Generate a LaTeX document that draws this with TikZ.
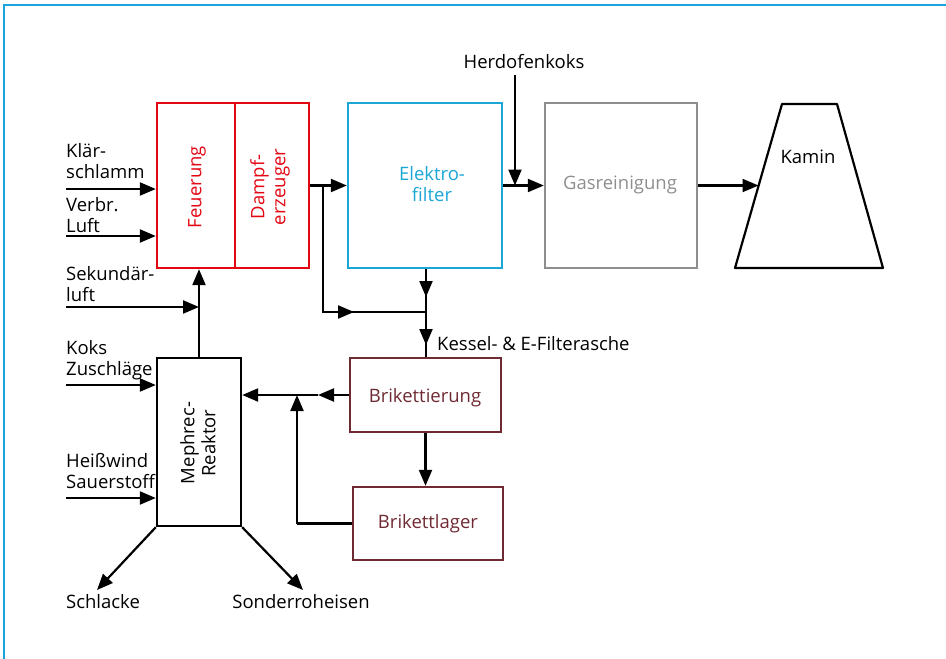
\documentclass[tikz,border=0pt]{standalone}
\usepackage{fontspec}
\setmainfont{Open Sans}
\usetikzlibrary{arrows.meta}
\definecolor{fred}{HTML}{E30613}
\definecolor{fcyan}{HTML}{1BA6D6}
\definecolor{fgray}{HTML}{8E8E8E}
\definecolor{fbrown}{HTML}{6F2A33}
\definecolor{fframe}{HTML}{1AA3DD}
\begin{document}
\begin{tikzpicture}[x=1pt,y=-1pt,
  lbl/.style={inner sep=0pt, anchor=base west, font=\fontsize{18.5}{20.5}\selectfont, align=left},
  txt/.style={inner sep=0pt, font=\fontsize{18.5}{21}\selectfont, align=center},
  box/.style={draw, line width=2.4pt, inner sep=0pt},
  ln/.style={line width=2.2pt},
  arr/.style={line width=2.2pt, -{Triangle[length=16pt,width=13pt]}}]
\useasboundingbox (0,0) rectangle (946,659);
\draw[fframe, line width=2pt] (4,659) -- (4,4.5) -- (946,4.5);
% boxes
\node[box, draw=fred, minimum width=78pt, minimum height=165pt] (feu) at (196,185.5) {};
\node[box, draw=fred, minimum width=74pt, minimum height=165pt] (dampf) at (272,185.5) {};
\node[box, draw=fcyan, minimum width=154pt, minimum height=165pt] (elek) at (425,185.5) {};
\node[box, draw=fgray, minimum width=152pt, minimum height=165pt] (gas) at (621,185.5) {};
\node[box, draw=black, minimum width=84pt, minimum height=168pt] (meph) at (199,442) {};
\node[box, draw=fbrown, minimum width=151pt, minimum height=74pt] (brik) at (425.5,395) {};
\node[box, draw=fbrown, minimum width=150pt, minimum height=73pt] (lager) at (428,523.5) {};
\draw[line width=2.2pt, line join=round] (782,104) -- (837,104) -- (883,268) -- (735,268) -- cycle;
% box texts
\node[txt, rotate=90, text=fred] (tfeu) at (197,187) {Feuerung};
\node[txt, rotate=90, text=fred] (tdampf) at (270,187) {Dampf-\\erzeuger};
\node[txt, text=fcyan] (telek) at (432,184) {Elektro-\\filter};
\node[txt, anchor=base, text=fgray] (tgas) at (620,189) {Gasreinigung};
\node[txt, anchor=base] (tkamin) at (808,163) {Kamin};
\node[txt, rotate=90] (tmeph) at (198,443) {Mephrec-\\Reaktor};
\node[txt, anchor=base, text=fbrown] (tbrik) at (425,402) {Brikettierung};
\node[txt, anchor=base, text=fbrown] (tlager) at (428,528) {Brikettlager};
% labels (base = last line)
\node[lbl] (lkl) at (66,178) {Klär-\\schlamm};
\node[lbl] (lvb) at (66,232) {Verbr.\\Luft};
\node[lbl] (lsk) at (66,301) {Sekundär-\\luft};
\node[lbl] (lko) at (66,375) {Koks\\Zuschläge};
\node[lbl] (lhw) at (66,488) {Heißwind\\Sauerstoff};
\node[lbl, anchor=base] (lsc) at (103,608) {Schlacke};
\node[lbl, anchor=base] (lso) at (301,608) {Sonderroheisen};
\node[lbl, anchor=base] (lhe) at (524,68) {Herdofenkoks};
\node[lbl] (lke) at (437,350) {Kessel- \& E-Filterasche};
% coordinates
\coordinate (ckl) at (66,189);
\coordinate (cvb) at (66,236);
\coordinate (csk) at (66,307);
\coordinate (cko) at (66,385);
\coordinate (chw) at (66,498);
\coordinate (b1) at (323,185.5);
\coordinate (b2) at (323,312);
\coordinate (bm) at (354,312);
\coordinate (k) at (426,312);
\coordinate (e1) at (426,297);
\coordinate (k1) at (426,345);
\coordinate (h1) at (515,75);
\coordinate (h2) at (515,185.5);
\coordinate (kam) at (758.5,185.5);
\coordinate (sl) at (97,590);
\coordinate (so) at (303,590);
\coordinate (bmid) at (318,395);
\coordinate (r1) at (297,523.5);
\coordinate (r2) at (297,395);
% connectors
\draw[arr] (ckl) -- (ckl -| feu.west);
\draw[arr] (cvb) -- (cvb -| feu.west);
\draw[arr] (csk) -- (csk -| meph.north);
\draw[arr] (meph.north) -- (meph.north |- feu.south);
\draw[arr] (dampf.east) -- (elek.west);
\draw[ln] (b1) -- (b2) -- (k);
\draw[arr] (b2) -- (bm);
\draw[ln] (elek.south -| k) -- (k);
\draw[arr] (elek.south -| k) -- (e1);
\draw[ln] (k) -- (k |- brik.north);
\draw[arr] (k) -- (k1);
\draw[arr] (h1) -- (h2);
\draw[arr] (elek.east) -- (gas.west);
\draw[arr] (gas.east) -- (kam);
\draw[arr] (cko) -- (cko -| meph.west);
\draw[arr] (chw) -- (chw -| meph.west);
\draw[arr] (meph.south west) -- (sl);
\draw[arr] (meph.south east) -- (so);
\draw[arr] (brik.west) -- (bmid);
\draw[arr] (bmid) -- (bmid -| meph.east);
\draw[arr] (brik.south) -- (brik.south |- lager.north);
\draw[ln] (lager.west) -- (r1);
\draw[arr] (r1) -- (r2);
\end{tikzpicture}
\end{document}
